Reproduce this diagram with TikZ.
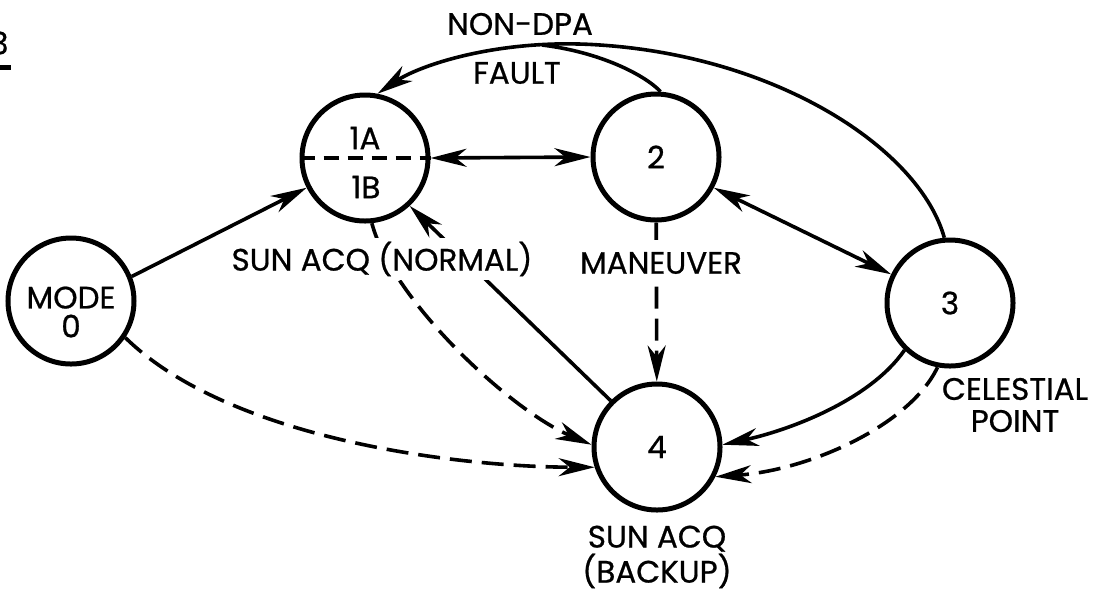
\documentclass[tikz,border=0pt]{standalone}
\usepackage{fontspec}
\setmainfont{Poppins}[FakeBold=0.7]
\usetikzlibrary{arrows.meta}
\begin{document}
\begin{tikzpicture}[x=0.5pt,y=-0.5pt,
  every node/.style={font=\fontsize{15.5}{16}\selectfont},
  state/.style={circle,draw,line width=2.5pt,minimum size=63pt,inner sep=0pt},
  link/.style={line width=1.8pt},
  head/.style={Stealth[length=18pt,width=9pt,inset=5.5pt]},
  tip/.style={-{Stealth[length=18pt,width=9pt,inset=5.5pt]}},
  both/.style={{Stealth[length=18pt,width=9pt,inset=5.5pt]}-{Stealth[length=18pt,width=9pt,inset=5.5pt]}},
  brk/.style={dash pattern=on 11pt off 5pt},
  tag/.style={fill=white,inner xsep=2pt,inner ysep=2pt}]
\useasboundingbox (0,0) rectangle (1107,591);

% figure number, cut at the left edge
\node[anchor=east,inner sep=0pt] (fignum) at (9,43) {3};
\draw[line width=2.5pt] (-6,67) -- (11,67);

% mode circles
\node[state] (c0) at (71,301) {};
\node[state] (c1) at (365,158) {};
\node[state] (c2) at (656,157) {2};
\node[state] (c3) at (950,303) {3};
\node[state] (c4) at (657,447) {4};
\draw[link,dash pattern=on 7.5pt off 4.5pt] (c1.west) -- (c1.east);

\node[align=center] (m0) at (71,312) {MODE\\[-1.5pt]0};
\node (t1a) at (365,138) {1A};
\node (t1b) at (366,187) {1B};

% transitions
\draw[link,tip] (c0.22) -- (c1.207);
\draw[link,both] (c1.east) -- (c2.west);
\draw[link,both] (c2.-28) -- (c3.154);

\coordinate (crest) at (600,45);
\coordinate (join) at (542,45);
\draw[link,tip] (c3.95) .. controls (920,150) and (780,57) .. (crest)
                        .. controls (500,38) and (420,65) .. (c1.79);
\draw[link] (c2.86) .. controls (645,75) and (600,52) .. (join);

\draw[link,brk,tip] (c2) -- (c4);
\draw[link,brk,tip] (c1.-84) .. controls (392,300) and (510,410) .. (c4.178);
\draw[link,tip] (c4.135) -- (c1.-47);
\draw[link,brk,tip] (c0.-34) .. controls (230,440) and (460,467) .. (c4.198);
\draw[link,tip] (c3.-134) .. controls (870,400) and (790,430) .. (c4.2);
\draw[link,brk,tip] (c3.-101) .. controls (910,425) and (810,470) .. (c4.-27);

% labels
\node (nondpa) at (520,24) {NON-DPA};
\node (fault) at (517,73) {FAULT};
\node[tag] (normal) at (382,259) {SUN ACQ (NORMAL)};
\node[tag,inner ysep=6pt] (maneuver) at (661,263) {MANEUVER};
\node[align=center] (celestial) at (1015,405) {CELESTIAL\\POINT};
\node[align=center] (backup) at (657,557) {SUN ACQ\\(BACKUP)};
\end{tikzpicture}
\end{document}
